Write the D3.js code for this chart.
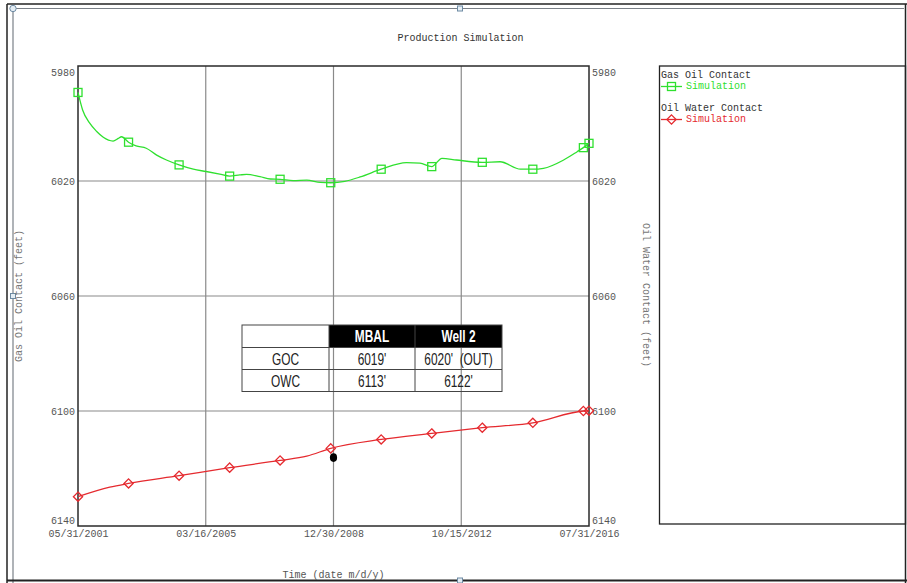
<!DOCTYPE html>
<html><head><meta charset="utf-8">
<script src="https://cdn.jsdelivr.net/npm/d3@7"></script>
<style>
html,body{margin:0;padding:0;background:#fff;}
svg{display:block;}
text{font-family:"Liberation Mono","Courier New",monospace;font-size:10px;}
</style></head>
<body>
<script>
// ---- data ----
const xTickLabels = ["05/31/2001","03/16/2005","12/30/2008","10/15/2012","07/31/2016"];
const yTicks = [5980, 6020, 6060, 6100, 6140];

const gocDates = ["2001-05-31","2001-07-20","2001-10-05","2001-12-20","2002-03-01","2002-06-15","2002-08-10","2002-09-15","2002-11-30","2003-02-20","2003-06-10","2003-10-01","2004-01-15","2004-05-31","2004-11-01","2005-03-20","2005-08-15","2005-11-30","2006-03-20","2006-06-01","2006-10-25","2007-02-15","2007-05-31","2007-10-20","2008-03-15","2008-08-10","2008-11-30","2009-05-01","2009-10-15","2010-05-31","2011-03-01","2011-07-25","2011-11-30","2012-03-20","2012-08-25","2013-05-31","2013-12-10","2014-07-20","2014-11-30","2015-03-25","2015-10-30","2016-03-25","2016-05-31","2016-07-31"];
const gocValues = [5989.2,5995.3,5999.9,6002.8,6004.8,6006.1,6005.2,6004.6,6006.5,6007.8,6008.6,6011.0,6012.7,6014.4,6015.9,6016.7,6017.6,6018.3,6017.9,6017.7,6018.5,6019.3,6019.4,6019.9,6019.7,6020.5,6020.6,6020.1,6018.6,6015.9,6013.6,6013.8,6015.0,6012.1,6012.7,6013.5,6013.3,6015.9,6015.9,6015.6,6012.7,6009.8,6008.4,6006.9];

const owcDates = ["2001-05-31","2002-05-10","2002-11-30","2004-05-31","2005-11-30","2007-05-31","2008-03-15","2008-11-30","2010-05-31","2011-11-30","2013-05-31","2014-11-30","2016-05-31","2016-07-31"];
const owcValues = [6129.8,6126.5,6125.2,6122.5,6119.7,6117.2,6115.7,6113.0,6109.9,6107.8,6105.8,6104.1,6100.0,6099.9];

const markerDates = ["2001-05-31","2002-11-30","2004-05-31","2005-11-30","2007-05-31","2008-11-30","2010-05-31","2011-11-30","2013-05-31","2014-11-30","2016-05-31","2016-07-31"];

const wellDates = ["2008-12-30"];
const wellValues = [6116.2];

const tableHeader = ["", "MBAL", "Well 2"];
const tableRows = [["GOC","6019'","6020'  (OUT)"],["OWC","6113'","6122'"]];

// ---- setup ----
const W = 907, H = 583;
const parse = d3.timeParse("%m/%d/%Y");
const parseISO = d3.timeParse("%Y-%m-%d");
const svg = d3.select("body").append("svg").attr("width", W).attr("height", H);

const x = d3.scaleTime().domain([parse(xTickLabels[0]), parse(xTickLabels[xTickLabels.length-1])]).range([78, 589]);
const y = d3.scaleLinear().domain([5980, 6140]).range([66, 526]);

const GREEN = "#2fe02f", RED = "#e52a2f";

// frame
const frame = svg.append("g");
frame.append("line").attr("x1",7).attr("y1",4).attr("x2",W).attr("y2",4).attr("stroke","#222").attr("stroke-width",1.5);
frame.append("line").attr("x1",7).attr("y1",4).attr("x2",7).attr("y2",H).attr("stroke","#222").attr("stroke-width",1.5);
frame.append("line").attr("x1",13).attr("y1",8.5).attr("x2",904).attr("y2",8.5).attr("stroke","#7a8088").attr("stroke-width",1.2);
frame.append("line").attr("x1",13).attr("y1",8.5).attr("x2",13).attr("y2",H).attr("stroke","#7a8088").attr("stroke-width",1.2);
frame.append("line").attr("x1",905.5).attr("y1",4).attr("x2",905.5).attr("y2",H).attr("stroke","#222").attr("stroke-width",1.5);
frame.append("line").attr("x1",7).attr("y1",580.5).attr("x2",W).attr("y2",580.5).attr("stroke","#222").attr("stroke-width",2);
[[13,8.5,"c"],[460,8.5,"s"],[13,296,"s"],[460,580.5,"s"]].forEach(([cx,cy,t])=>{
  if(t==="c") frame.append("circle").attr("cx",cx).attr("cy",cy).attr("r",3.2).attr("fill","#e4edf4").attr("stroke","#6d8aa3");
  else frame.append("rect").attr("x",cx-2.5).attr("y",cy-2.5).attr("width",5).attr("height",5).attr("fill","#e4edf4").attr("stroke","#6d8aa3");
});

// title
svg.append("text").attr("x",460.5).attr("y",41).attr("text-anchor","middle").attr("fill","#333").text("Production Simulation");

// gridlines
const grid = svg.append("g");
grid.selectAll(".gx").data(xTickLabels.slice(1,-1)).enter().append("line")
  .attr("x1",d=>x(parse(d))).attr("x2",d=>x(parse(d))).attr("y1",66).attr("y2",526)
  .attr("stroke","#8a8a8a").attr("stroke-width",1.2);
grid.selectAll(".gy").data(yTicks.slice(1,-1)).enter().append("line")
  .attr("y1",d=>y(d)).attr("y2",d=>y(d)).attr("x1",78).attr("x2",589)
  .attr("stroke","#8a8a8a").attr("stroke-width",1.2);

// plot border
svg.append("rect").attr("x",78).attr("y",66).attr("width",511).attr("height",460).attr("fill","none").attr("stroke","#2a2a2a").attr("stroke-width",1.5);

// axes (labels only)
function dyFor(v,i){ return i===0 ? 9 : (i===yTicks.length-1 ? -3 : 3.5); }
const axL = d3.axisLeft(y).tickValues(yTicks).tickSize(0).tickPadding(3).tickFormat(d3.format("d"));
const gL = svg.append("g").attr("transform","translate(78,0)").call(axL);
const axR = d3.axisRight(y).tickValues(yTicks).tickSize(0).tickPadding(3).tickFormat(d3.format("d"));
const gR = svg.append("g").attr("transform","translate(589,0)").call(axR);
[gL,gR].forEach(g=>{
  g.select(".domain").remove();
  g.selectAll("text").attr("dy",null).attr("y",(d,i)=>dyFor(d,i)).attr("fill","#555").style("font-family","Liberation Mono").style("font-size","10px");
});
const axB = d3.axisBottom(x).tickValues(xTickLabels.map(parse)).tickSize(0).tickPadding(0).tickFormat(d3.timeFormat("%m/%d/%Y"));
const gB = svg.append("g").attr("transform","translate(0,526)").call(axB);
gB.select(".domain").remove();
gB.selectAll("text").attr("dy",null).attr("y",11).attr("fill","#555").style("font-family","Liberation Mono").style("font-size","10px");

// axis titles
svg.append("text").attr("x",333.5).attr("y",578).attr("text-anchor","middle").attr("fill","#555").text("Time (date m/d/y)");
svg.append("text").attr("transform","translate(22,296) rotate(-90)").attr("text-anchor","middle").attr("fill","#777").text("Gas Oil Contact (feet)");
svg.append("text").attr("transform","translate(643,295) rotate(90)").attr("text-anchor","middle").attr("fill","#777").text("Oil Water Contact (feet)");

// table
const tb = svg.append("g");
const colX = [242, 329, 415, 502];
const rowY = [325, 347.5, 369.5, 391.5];
tb.append("rect").attr("x",colX[1]).attr("y",rowY[0]).attr("width",colX[3]-colX[1]).attr("height",rowY[1]-rowY[0]).attr("fill","#000");
tb.append("rect").attr("x",colX[0]).attr("y",rowY[0]).attr("width",colX[3]-colX[0]).attr("height",rowY[3]-rowY[0]).attr("fill","none").attr("stroke","#444").attr("stroke-width",1);
rowY.slice(1,3).forEach(ry=>tb.append("line").attr("x1",colX[0]).attr("x2",colX[3]).attr("y1",ry).attr("y2",ry).attr("stroke","#444"));
colX.slice(1,3).forEach(cx=>tb.append("line").attr("x1",cx).attr("x2",cx).attr("y1",rowY[0]).attr("y2",rowY[3]).attr("stroke","#444"));
function cellText(txt, ci, baseline, bold, fill){
  const cx = (colX[ci]+colX[ci+1])/2;
  tb.append("text").attr("transform",`translate(${cx},${baseline}) scale(0.7,1)`).attr("text-anchor","middle")
    .style("font-family","Liberation Sans, Arial, sans-serif").style("font-size","17px")
    .style("font-weight",bold?"bold":"normal").attr("fill",fill).attr("xml:space","preserve").text(txt);
}
tableHeader.forEach((h,i)=>{ if(h) cellText(h,i,342,true,"#fff"); });
tableRows.forEach((r,ri)=>r.forEach((c,ci)=>cellText(c,ci,[365,387][ri],false,"#222")));

// series
const goc = gocDates.map((d,i)=>({date:parseISO(d), v:gocValues[i], m:markerDates.includes(d)}));
const owc = owcDates.map((d,i)=>({date:parseISO(d), v:owcValues[i], m:markerDates.includes(d)}));
const line = d3.line().x(d=>x(d.date)).y(d=>y(d.v)).curve(d3.curveMonotoneX);
svg.append("path").datum(goc).attr("d",line).attr("fill","none").attr("stroke",GREEN).attr("stroke-width",1.3);
svg.append("path").datum(owc).attr("d",line).attr("fill","none").attr("stroke",RED).attr("stroke-width",1.3);
svg.selectAll(".sq").data(goc.filter(d=>d.m)).enter().append("rect")
  .attr("x",d=>x(d.date)-4).attr("y",d=>y(d.v)-4).attr("width",8).attr("height",8)
  .attr("fill","none").attr("stroke",GREEN).attr("stroke-width",1.3);
const diamond = s => `M0,${-s}L${s},0L0,${s}L${-s},0Z`;
svg.selectAll(".dm").data(owc.filter(d=>d.m)).enter().append("path")
  .attr("transform",d=>`translate(${x(d.date)},${y(d.v)})`).attr("d",diamond(4.6))
  .attr("fill","none").attr("stroke",RED).attr("stroke-width",1.3);
svg.selectAll(".well").data(wellDates).enter().append("ellipse")
  .attr("cx",d=>x(parseISO(d))).attr("cy",(d,i)=>y(wellValues[i])).attr("rx",3.6).attr("ry",4.3).attr("fill","#000");

// legend
const lg = svg.append("g");
lg.append("rect").attr("x",659.5).attr("y",66).attr("width",246).attr("height",458).attr("fill","none").attr("stroke","#222").attr("stroke-width",1.3);
const legendItems = [
  {title:"Gas Oil Contact", color:GREEN, shape:"sq", ty:78, ly:86.5},
  {title:"Oil Water Contact", color:RED, shape:"dm", ty:111, ly:119.5}
];
legendItems.forEach(it=>{
  lg.append("text").attr("x",661).attr("y",it.ty).attr("fill","#333").text(it.title);
  lg.append("line").attr("x1",661).attr("x2",682).attr("y1",it.ly).attr("y2",it.ly).attr("stroke",it.color).attr("stroke-width",1.3);
  if(it.shape==="sq") lg.append("rect").attr("x",667.5).attr("y",it.ly-4).attr("width",8).attr("height",8).attr("fill","none").attr("stroke",it.color).attr("stroke-width",1.3);
  else lg.append("path").attr("transform",`translate(671.5,${it.ly})`).attr("d",diamond(4.6)).attr("fill","none").attr("stroke",it.color).attr("stroke-width",1.3);
  lg.append("text").attr("x",686).attr("y",it.ty+11).attr("fill",it.color).text("Simulation");
});
</script>
</body></html>
